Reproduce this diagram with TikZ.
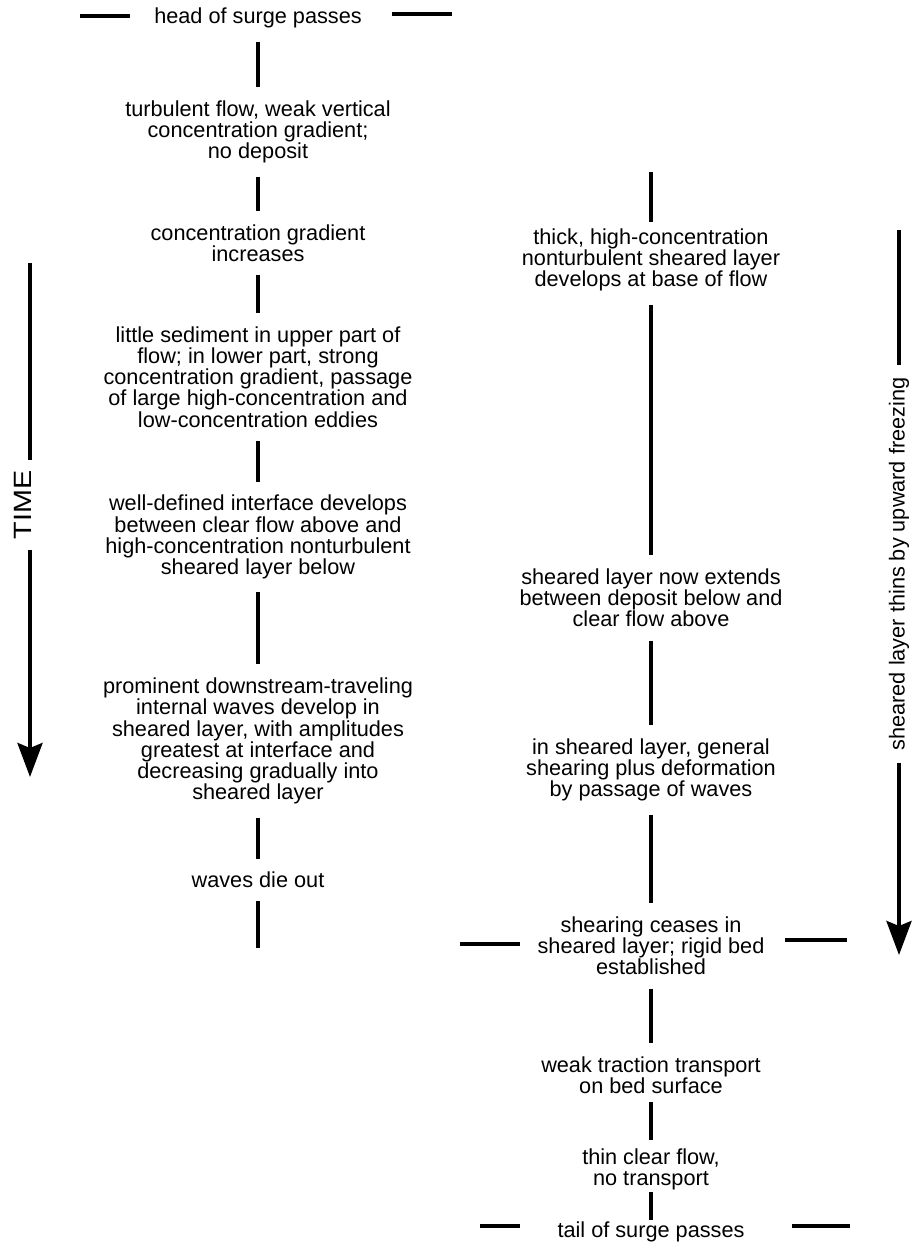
\documentclass[tikz,border=0pt]{standalone}
\usepackage{fontspec}
\setmainfont{Liberation Sans}
\usetikzlibrary{arrows.meta}
\tikzset{
	stage/.style={align=center, inner sep=0pt, font=\fontsize{10.85}{10.6}\selectfont},
	link/.style={line width=2pt, shorten <=6.5pt, shorten >=6.5pt},
	tick/.style={line width=2pt},
	timeline/.style={line width=2pt},
	timetip/.style={-{Stealth[length=17pt, width=12.5pt, inset=2.5pt]}},
}

\begin{document}
\begin{tikzpicture}[x=0.5pt, y=-0.5pt]
	\path[use as bounding box] (0,0) rectangle (921,1243);

	%left column
	\node[stage] (head) at (258,18) {head of surge passes};
	\node[stage] (n1) at (258,132) {turbulent flow, weak vertical\\concentration gradient;\\no deposit};
	\node[stage] (n2) at (258,243) {concentration gradient\\increases};
	\node[stage] (n3) at (258,377) {little sediment in upper part of\\flow; in lower part, strong\\concentration gradient, passage\\of large high-concentration and\\low-concentration eddies};
	\node[stage] (n4) at (258,537) {well-defined interface develops\\between clear flow above and\\high-concentration nonturbulent\\sheared layer below};
	\node[stage] (n5) at (258,741) {prominent downstream-traveling\\internal waves develop in\\sheared layer, with amplitudes\\greatest at interface and\\decreasing gradually into\\sheared layer};
	\node[stage] (n6) at (258,880) {waves die out};
	\coordinate (lend) at (258,948);

	\draw[link] (head) -- (n1);
	\draw[link] (n1) -- (n2);
	\draw[link] (n2) -- (n3);
	\draw[link] (n3) -- (n4);
	\draw[link] (n4) -- (n5);
	\draw[link] (n5) -- (n6);
	\draw[link, shorten >=0pt] (n6) -- (lend);

	%right column
	\coordinate (rtop) at (651,172);
	\node[stage] (r1) at (651,260) {thick, high-concentration\\nonturbulent sheared layer\\develops at base of flow};
	\node[stage] (r2) at (651,598) {sheared layer now extends\\between deposit below and\\clear flow above};
	\node[stage] (r3) at (651,770) {in sheared layer, general\\shearing plus deformation\\by passage of waves};
	\node[stage] (r4) at (651,946) {shearing ceases in\\sheared layer; rigid bed\\established};
	\node[stage] (r5) at (651,1075) {weak traction transport\\on bed surface};
	\node[stage] (r6) at (651,1169) {thin clear flow,\\no transport};
	\node[stage] (r7) at (651,1232) {tail of surge passes};

	\draw[link, shorten <=0pt, shorten >=3pt] (rtop) -- (r1);
	\draw[link] (r1) -- (r2);
	\draw[link] (r2) -- (r3);
	\draw[link] (r3) -- (r4);
	\draw[link] (r4) -- (r5);
	\draw[link, shorten <=4pt, shorten >=4pt] (r5) -- (r6);
	\draw[link, shorten <=1pt, shorten >=1pt] (r6) -- (r7);

	%end marks
	\draw[tick] (80,16) -- (130,16);		\draw[tick] (392,14) -- (452,14);
	\draw[tick] (460,944) -- (520,944);		\draw[tick] (785,940) -- (847,940);
	\draw[tick] (480,1226) -- (520,1226);	\draw[tick] (792,1226) -- (850,1226);

	%time arrow
	\coordinate (ttop) at (30,263);
	\coordinate (ttip) at (30,777);
	\node[stage, rotate=90, inner xsep=5pt, font=\fontsize{12.5}{12.5}\selectfont] (time) at (23,505) {\scalebox{1.15}[1]{TIME}};
		\draw[timeline] (ttop) -- (ttop |- time.east);
		\draw[timeline, timetip] (ttip |- time.west) -- (ttip);

	%freezing arrow
	\coordinate (ftop) at (899,230);
	\coordinate (ftip) at (899,955);
	\node[stage, rotate=90, inner xsep=6pt] (freeze) at (899,564) {sheared layer thins by upward freezing};
		\draw[timeline] (ftop) -- (freeze);
		\draw[timeline, timetip] (freeze) -- (ftip);
\end{tikzpicture}
\end{document}
